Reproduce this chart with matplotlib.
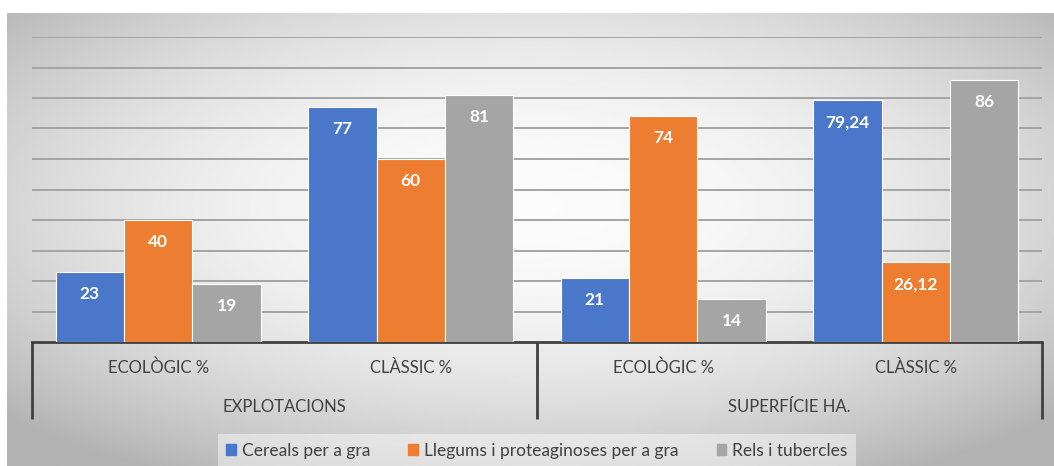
import numpy as np
import matplotlib.pyplot as plt
from matplotlib.patches import Patch
from matplotlib.transforms import blended_transform_factory

plt.rcParams['font.family'] = ['Lato', 'DejaVu Sans']

groups = ['EXPLOTACIONS', 'SUPERFÍCIE HA.']
categories = ['ECOLÒGIC %', 'CLÀSSIC %', 'ECOLÒGIC %', 'CLÀSSIC %']
series = ['Cereals per a gra', 'Llegums i proteaginoses per a gra', 'Rels i tubercles']
cereals = [23, 77, 21, 79.24]
llegums = [40, 60, 74, 26.12]
rels = [19, 81, 14, 86]
colors = ['#4a77c9', '#ed7d31', '#a5a5a5']

W, H = 1054, 466
fig = plt.figure(figsize=(W / 100, H / 100), dpi=100)

# radial grey background
bg = fig.add_axes([7 / W, 0, 1 - 7 / W, (H - 13) / H])
yy, xx = np.mgrid[-1:1:300j, -1:1:600j]
r2 = (xx * 1.0) ** 2 + ((yy + 0.15) * 1.0) ** 2
shade = np.clip(0.985 - 0.15 * r2, 0.70, 1.0)
bg.imshow(shade, cmap='gray', vmin=0, vmax=1, aspect='auto', interpolation='bilinear')
bg.axis('off')

x0, x1 = 32, 1042
yb, yt = 342, 37
ax = fig.add_axes([x0 / W, (H - yb) / H, (x1 - x0) / W, (yb - yt) / H])
ax.patch.set_alpha(0)

x = np.arange(len(categories))
bw = 0.271
for i, (vals, c) in enumerate(zip([cereals, llegums, rels], colors)):
    pos = x + (i - 1) * bw
    bars = ax.bar(pos, vals, bw, color=c, edgecolor='white', linewidth=0.8, zorder=3)
    for b, v in zip(bars, vals):
        lab = f'{v:g}'.replace('.', ',')
        ax.annotate(lab, (b.get_x() + b.get_width() / 2, v), xytext=(0, -22),
                    textcoords='offset pixels', ha='center', va='center',
                    color='white', fontsize=12.5, fontweight='bold', zorder=4)

ax.set_xlim(-0.5, len(categories) - 0.5)
ax.set_ylim(0, 100)
ax.set_yticks(np.arange(10, 101, 10))
ax.yaxis.grid(True, color='#a4a4a4', linewidth=1.4, zorder=0)
ax.tick_params(left=False, labelleft=False, bottom=False, labelbottom=False)
for s in ['top', 'right', 'left']:
    ax.spines[s].set_visible(False)
ax.spines['bottom'].set_color('#404040')
ax.spines['bottom'].set_linewidth(2)

# multi-level category axis
tr = blended_transform_factory(ax.transData, fig.transFigure)
for xv in [-0.5, 1.5, 3.5]:
    ax.plot([xv, xv], [(H - yb) / H, (H - 419) / H], color='#404040', lw=2,
            transform=tr, clip_on=False, solid_capstyle='butt')
for xi, cat in zip(x, categories):
    ax.text(xi, (H - 368) / H, cat, transform=tr, ha='center', va='center',
            fontsize=12, color='#404040')
for gi, g in enumerate(groups):
    ax.text(2 * gi + 0.5, (H - 407) / H, g, transform=tr, ha='center', va='center',
            fontsize=12, color='#404040')

handles = [Patch(color=c) for c in colors]
leg = fig.legend(handles, series, loc='center', bbox_to_anchor=(537 / W, 1 - 451 / H),
                 ncol=3, frameon=True, fontsize=12.5, handlelength=0.55, handleheight=0.6,
                 handletextpad=0.35, columnspacing=2.2, borderpad=0.5, borderaxespad=0,
                 fancybox=False)
leg.get_frame().set_facecolor('white')
leg.get_frame().set_alpha(0.45)
leg.get_frame().set_edgecolor('none')
for t in leg.get_texts():
    t.set_color('#404040')

fig.savefig('out.png', dpi=100)
